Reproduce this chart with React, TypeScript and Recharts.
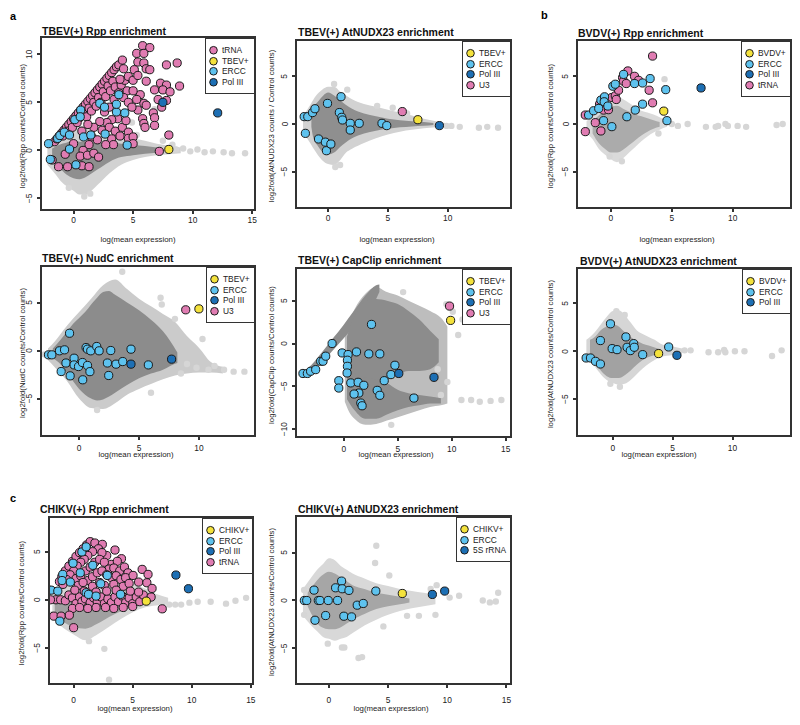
import React from 'react';
import { ComposedChart, Area, Scatter, XAxis, YAxis } from 'recharts';

type Pt = [number, number];
type Band = [number, number, number]; // x, low, high

const FONT = "'Liberation Sans', Arial, Helvetica, sans-serif";
const PINK = '#e07cb2';
const LBLUE = '#5ec2ee';
const DBLUE = '#1d6fb4';
const YELLOW = '#f4e23c';

// ---------- a: TBEV(+) Rpp ----------
const tbevRppFringe: Band[] = [
  [-2.2, -1.5, 0.6], [-1.5, -2.5, 1.2], [-1, -3.3, 1.6], [-0.5, -3.8, 2.0], [0, -4.2, 2.4], [0.5, -4.6, 2.6],
  [1, -4.6, 2.4], [1.5, -4.2, 2.0], [2, -3.6, 1.6], [2.5, -3.0, 1.4], [3, -2.4, 1.3], [3.5, -1.9, 1.2],
  [4, -1.5, 1.3], [5, -1.0, 1.2], [6, -0.7, 1.0], [7, -0.5, 0.7], [8, -0.4, 0.5], [9, -0.3, 0.3],
];
const tbevRppCore: Band[] = [
  [-1.8, -1.0, 0.2], [-1.2, -1.8, 0.6], [-0.6, -2.5, 0.8], [0, -2.9, 1.0], [0.5, -3.0, 0.9], [1, -2.8, 0.9],
  [1.5, -2.4, 0.8], [2, -2.0, 0.8], [2.5, -1.6, 0.8], [3, -1.2, 0.8], [3.5, -0.9, 0.8], [4, -0.7, 0.7],
  [5, -0.5, 0.6], [6, -0.35, 0.45], [7, -0.25, 0.3], [7.6, -0.15, 0.15],
];
const tbevRppDiag: Band[] = [[-1.8, 0.3, 1.2], [0, 2.6, 3.6], [2, 5.6, 6.6], [3.7, 8.2, 8.9]];
const tbevRppHaze: Pt[] = [
  [8.6, 0.1], [9.2, 0.2], [9.8, -0.1], [10.4, 0.1], [11, -0.2], [11.7, -0.1], [12.6, -0.2], [13.3, -0.3],
  [14.4, -0.3], [6.8, 4.3], [4.9, 2.9], [0.9, -4.8], [1.4, -4.5], [-0.4, -3.9], [5.3, 1.6], [7.5, 1.0], [8.3, 0.6],
];
const tbevRppTRNA: Pt[] = [
  [-1.6, 0.9], [-1.4, 1.2], [-1.2, 1.5], [-1.0, 1.8], [-0.8, 2.1], [-0.6, 2.4], [-0.4, 2.7], [-0.2, 3.0],
  [0, 3.3], [0.2, 3.6], [0.4, 3.9], [0.6, 4.2], [0.8, 4.5], [1.0, 4.8], [1.2, 5.1], [1.4, 5.4], [1.6, 5.7],
  [1.8, 6.0], [2.0, 6.3], [2.2, 6.6], [2.4, 6.9], [2.6, 7.2], [2.8, 7.5], [3.0, 7.8], [3.2, 8.1], [3.4, 8.4],
  [3.6, 8.7], [3.8, 8.9],
  [0.5, 3.4], [0.9, 3.9], [1.3, 4.4], [1.7, 5.0], [2.1, 5.5], [2.5, 6.1], [2.9, 6.7], [3.3, 7.2], [1.1, 3.5],
  [1.5, 4.1], [1.9, 4.6], [2.3, 5.0], [2.7, 5.6], [3.1, 6.2], [3.5, 6.6], [-0.9, 1.5], [-0.5, 2.0], [-0.1, 2.4],
  [0.3, 2.9],
  [2.6, 4.0], [3.0, 4.5], [3.4, 5.3], [3.8, 6.0], [4.0, 6.8], [4.3, 7.3], [3.9, 7.4], [4.5, 6.2], [4.2, 5.5],
  [4.6, 5.0], [3.7, 3.3], [3.2, 3.2], [2.8, 2.9], [2.2, 3.0], [1.7, 2.4], [2.4, 2.1], [3.0, 2.4], [3.5, 2.0],
  [4.1, 2.4], [4.4, 3.1], [1.2, 2.7], [0.7, 2.0], [1.5, 1.4], [2.0, 1.1], [3.9, 1.5], [3.2, 1.2],
  [5.8, 10.9], [6.4, 10.7], [5.3, 10.1], [5.9, 10.1], [5.4, 9.2], [5.9, 9.1], [6.1, 8.5], [6.4, 8.4], [5.1, 8.4],
  [7.8, 8.9], [8.7, 9.1], [8.9, 6.7], [4.1, 9.4], [4.2, 8.5], [4.6, 7.7], [5.0, 7.3], [5.4, 7.8], [6.1, 7.2],
  [7.3, 7.0], [7.8, 6.8], [6.8, 6.3], [7.5, 6.3], [8.1, 6.1], [7.1, 5.3], [7.8, 5.2], [7.4, 4.5], [6.7, 3.9],
  [6.8, 3.4], [6.8, 2.6], [5.6, 5.8], [5.9, 4.9], [6.1, 4.7], [5.4, 4.2], [5.8, 3.3], [5.9, 2.8], [6.0, 2.4],
  [4.6, 1.9], [4.6, 1.25], [5.0, 1.4], [5.0, 0.7], [8.0, 1.6], [7.2, -0.1], [5.0, 6.2], [5.3, 5.3], [4.9, 4.5],
  [3.35, 0.6], [2.7, 0.6], [1.3, 0.6], [0, 0.7], [0.8, 0.0], [0.56, -0.6], [1.17, -0.5], [1.7, -0.3], [2.1, -0.7],
  [0.7, -1.6], [1.3, -1.7], [-0.5, -1.7], [-1.26, -1.7], [-1.8, -1.0], [-0.7, -0.4],
];
const tbevRppERCC: Pt[] = [
  [-2.1, 0.7], [-1.95, -0.94], [-1.34, 1.25], [-1.15, 1.55], [-0.78, 1.9], [-0.34, 1.6], [-0.34, 0.14],
  [0.1, 3.2], [0.6, 4.2], [0.56, 3.5], [0.84, 1.4], [1.45, 1.6], [2.2, 4.9], [2.6, 4.5], [2.65, 1.7],
  [3.8, 5.8], [3.6, 4.0], [4.3, 3.9], [3.6, 4.8], [4.5, 0.55], [0.2, -1.5],
];
const tbevRppPol3: Pt[] = [[7.5, 5.0], [12.1, 3.9]];
const tbevRppVirus: Pt[] = [[8.0, 0.1]];

// ---------- a: TBEV(+) AtNUDX23 ----------
const tbevNudxFringe: Band[] = [
  [-2.1, -0.8, 0.8], [-1.5, -2.0, 2.0], [-1, -3.0, 3.0], [-0.5, -3.8, 3.6], [0, -4.2, 3.9], [0.5, -4.3, 3.9],
  [1, -3.8, 3.4], [1.5, -3.0, 3.0], [2, -2.6, 2.6], [3, -2.0, 2.1], [4, -1.5, 1.8], [5, -1.1, 1.5],
  [6, -0.8, 1.2], [7, -0.6, 0.9], [8, -0.45, 0.55], [9, -0.35, 0.3], [9.8, -0.25, 0.1],
];
const tbevNudxCore: Band[] = [
  [-1.4, -0.3, 0.3], [-1.25, -1.4, 1.5], [-0.8, -2.4, 2.4], [-0.4, -3.0, 3.0], [0, -3.2, 3.3], [0.5, -3.0, 3.0],
  [1, -2.4, 2.5], [1.5, -1.9, 2.0], [2, -1.5, 1.6], [3, -1.0, 1.1], [4, -0.7, 0.8], [5, -0.5, 0.55],
  [6, -0.35, 0.4], [7, -0.25, 0.3], [8, -0.18, 0.2], [8.8, -0.1, 0.1],
];
const tbevNudxHaze: Pt[] = [
  [10.3, -0.2], [11, -0.3], [12.6, -0.4], [13.3, -0.3], [14.2, -0.4], [9.9, -0.2], [4.1, 1.9], [5.4, 1.7],
  [6.6, 1.1], [1.6, 3.6], [0.5, 4.2], [1.0, -4.3], [0.6, -4.5],
];
const tbevNudxERCC: Pt[] = [
  [-2.0, 0.77], [-1.7, 0.77], [-1.3, 1.2], [-1.1, 1.6], [-1.9, -0.98], [-0.8, -1.57], [-0.23, -1.9],
  [-0.14, -2.8], [0.23, -2.1], [-0.05, 2.16], [1.08, 2.86], [0.94, 1.2], [1.14, 0.7], [1.2, 0.42],
  [1.85, 0.07], [1.85, -0.63], [2.6, 0.07], [4.5, 0.07], [4.9, -0.17],
];
const tbevNudxPol3: Pt[] = [[9.3, -0.17]];
const tbevNudxVirus: Pt[] = [[7.5, 0.45]];
const tbevNudxU3: Pt[] = [[6.2, 1.3]];

// ---------- b: BVDV(+) Rpp ----------
const bvdvRppFringe: Band[] = [
  [-2, -1.0, 0.3], [-1.5, -1.6, 0.9], [-1, -2.6, 1.6], [-0.5, -3.2, 2.2], [0, -3.7, 2.7], [0.5, -4.0, 2.9],
  [1, -3.6, 2.6], [1.5, -3.0, 2.2], [2, -2.4, 1.8], [2.5, -1.8, 1.4], [3, -1.3, 1.2], [3.5, -0.9, 1.0],
  [4, -0.6, 0.7], [4.6, -0.3, 0.3],
];
const bvdvRppCore: Band[] = [
  [-1.5, -1.0, 0.3], [-1, -2.0, 0.9], [-0.5, -2.6, 1.3], [0, -3.0, 1.8], [0.5, -3.0, 1.9], [1, -2.7, 1.6],
  [1.5, -2.2, 1.3], [2, -1.7, 1.0], [2.5, -1.2, 0.8], [3, -0.8, 0.6], [3.5, -0.5, 0.4], [4, -0.3, 0.2],
];
const bvdvRppHaze: Pt[] = [
  [5.0, 0.0], [5.5, -0.2], [6.3, 0.0], [7.8, -0.3], [8.6, -0.3], [8.8, -0.2], [9.4, 0.0], [9.6, -0.2],
  [10.4, -0.2], [11.1, -0.3], [13.6, -0.1], [14.1, 0.0], [4.4, 4.7], [0.9, -3.9], [-0.1, -3.4], [3.9, -1.0],
];
const bvdvRppTRNA: Pt[] = [
  [-2.1, 0.94], [-2.1, -0.8], [-1.28, 0.14], [-0.93, 2.08], [-0.82, -0.73], [-0.6, 1.46], [-0.2, 1.5],
  [0.08, 2.78], [0.36, 2.95], [0.44, 2.57], [0.63, 3.54], [0.96, 4.86], [1.04, 4.48], [1.26, 4.24],
  [1.39, 5.56], [1.94, 5.0], [2.27, 4.58], [3.14, 3.54], [3.42, 7.12], [3.42, 2.22],
];
const bvdvRppERCC: Pt[] = [
  [-1.83, 0.94], [-1.42, 1.39], [-1.0, 1.63], [-0.82, 2.5], [-0.52, 2.85], [-0.55, 2.33], [-0.25, 1.88],
  [-0.6, 0.35], [0.08, -0.28], [0.16, 3.96], [0.36, 4.17], [1.04, 5.2], [1.31, 0.76], [2.0, 1.46],
  [1.94, 4.24], [2.6, 4.3], [2.6, 2.08], [3.22, 4.76], [4.5, 3.6], [4.6, 0.35],
];
const bvdvRppPol3: Pt[] = [[7.4, 3.78]];
const bvdvRppVirus: Pt[] = [[4.34, 1.35]];

// ---------- a: TBEV(+) NudC ----------
const tbevNudcFringe: Band[] = [
  [-2.6, -1.0, 0.2], [-2, -1.8, 1.0], [-1, -3.2, 2.6], [0, -5.0, 4.0], [1, -6.0, 5.4], [2, -6.1, 6.8],
  [3, -5.5, 7.4], [4, -4.6, 6.4], [5, -4.0, 5.4], [6, -3.5, 4.6], [7, -3.0, 3.8], [8, -2.6, 3.0],
  [9, -2.4, 1.5], [10, -2.3, 0.3], [11, -2.3, -1.2], [12, -2.4, -1.7],
];
const tbevNudcCore: Band[] = [
  [-2.2, -0.8, 0.2], [-1.5, -1.5, 1.2], [-1, -2.4, 2.0], [-0.5, -3.2, 2.8], [0, -4.0, 3.4], [0.5, -4.6, 4.0],
  [1, -5.0, 4.8], [1.5, -5.2, 5.5], [2, -5.1, 6.1], [2.5, -4.8, 6.2], [3, -4.4, 5.8], [4, -3.6, 5.0],
  [5, -2.9, 4.2], [6, -2.4, 3.2], [7, -2.0, 2.0], [7.6, -1.6, 1.0], [8.2, -1.3, -0.2],
];
const tbevNudcHaze: Pt[] = [
  [3.6, 8.2], [6.8, 5.5], [6.9, 4.8], [8.0, 3.3], [10.3, 1.2], [9.0, -1.4], [9.8, -1.8], [11.3, -1.6],
  [12.1, -2.0], [12.9, -2.2], [13.8, -2.2], [6.0, -4.4], [8.5, -2.4], [10.8, -2.0], [1.5, -6.2], [-2.9, -0.4],
];
const tbevNudcERCC: Pt[] = [
  [-2.56, -0.45], [-2.28, -0.45], [-1.64, -0.03], [-1.22, 0.07], [-0.8, 1.8], [-1.5, -2.19], [-1.1, -1.3],
  [-0.75, -2.64], [-0.42, -0.8], [-0.42, -1.5], [-0.05, -1.67], [0.28, -1.25], [0.3, -3.05], [0.58, 0.31],
  [0.7, 0.14], [0.7, -1.56], [0.9, -2.2], [0.97, -0.03], [1.47, 0.42], [1.67, -0.03], [2.64, 0],
  [2.36, -1.3], [2.47, -2.6], [3.08, -1.42], [3.64, -1.15], [4.33, 0.14], [5.78, -1.5],
];
const tbevNudcPol3: Pt[] = [[4.33, -1.42], [7.72, -0.9]];
const tbevNudcVirus: Pt[] = [[10.0, 4.34]];
const tbevNudcU3: Pt[] = [[8.9, 4.24]];

// ---------- a: TBEV(+) CapClip ----------
const capFringe: Band[] = [
  [0.1, -6.8, 1.0], [0.5, -8.0, 2.6], [1, -8.8, 4.0], [2, -9.5, 5.8], [3, -9.4, 6.6], [4, -9.0, 6.0],
  [5, -8.6, 5.6], [6, -8.2, 5.0], [7, -7.8, 4.4], [8, -7.4, 3.8], [9, -7.2, 3.0], [9.6, -7.0, 2.0],
];
const capUpperCore: Band[] = [
  [0.3, -4.5, 0.8], [0.6, -5.0, 2.0], [1, -5.0, 3.2], [1.5, -4.8, 4.2], [2, -4.6, 5.0], [3, -4.4, 5.2],
  [4, -4.2, 5.0], [5, -3.6, 4.6], [6, -3.2, 3.8], [7, -3.2, 2.8], [8, -3.0, 1.5], [8.8, -2.2, 0.5],
];
const capLowerCore: Band[] = [
  [0.3, -6.5, -3.0], [1, -7.8, -3.5], [2, -8.8, -4.0], [3, -8.8, -4.2], [4, -8.3, -4.6], [5, -7.8, -5.4],
  [6, -7.4, -5.8], [7, -7.2, -6.0], [8, -7.0, -6.2], [9, -7.0, -6.4],
];
const capDiag: Band[] = [
  [-3.6, -3.6, -3.2], [-3, -3.3, -2.5], [-2, -2.2, -1.0], [-1, -0.8, 0.6], [0, 0.6, 2.2], [1, 2.1, 3.9],
  [2, 3.6, 5.6], [3, 5.2, 6.8], [3.3, 6.0, 6.9],
];
const capHaze: Pt[] = [
  [9.5, 4.6], [10.1, 3.7], [10.6, 1.0], [11.0, 2.8], [9.6, -4.5], [8.7, -3.0], [10.9, -6.6], [11.8, -6.6],
  [12.6, -6.8], [13.6, -6.7], [14.6, -6.6], [9.0, -6.0], [4.4, -9.5], [5.5, 6.0],
];
const capERCC: Pt[] = [
  [-3.78, -3.5], [-3.37, -3.5], [-3.07, -3.24], [-2.6, -3.05], [-2.14, -2.07], [-1.92, -2.07], [-1.67, -1.48],
  [-1.08, 0], [-0.15, -1.1], [0.4, -1.29], [0.34, -1.95], [0.34, -2.66], [0.31, -3.44], [-0.46, -4.34],
  [-0.46, -5.2], [0.65, -4.6], [1.18, -0.98], [1.33, -4.53], [1.4, -5.78], [0.96, -5.9], [1.86, -4.88],
  [1.58, -6.95], [1.7, -7.27], [2.57, 2.23], [2.32, -1.21], [3.34, -1.21], [3.1, -5.47], [3.34, -6.05],
  [3.75, -4.34], [4.37, -3.63], [4.74, -2.54], [6.5, -6.37],
];
const capPol3: Pt[] = [[5.1, -3.5], [8.36, -3.95]];
const capVirus: Pt[] = [[9.9, 2.7]];
const capU3: Pt[] = [[9.8, 4.37]];

// ---------- b: BVDV(+) AtNUDX23 ----------
const bvdvNudxFringe: Band[] = [
  [-2.2, -0.6, 1.2], [-1.5, -1.6, 2.0], [-1, -2.4, 2.8], [-0.5, -3.0, 3.6], [0, -3.3, 4.2], [0.5, -3.5, 4.3],
  [1, -3.4, 3.8], [1.5, -3.0, 3.0], [2, -2.4, 2.2], [2.5, -1.8, 1.8], [3, -1.3, 1.5], [3.5, -0.9, 1.2],
  [4, -0.6, 0.8], [5, -0.4, 0.5], [5.8, -0.2, 0.3],
];
const bvdvNudxCore: Band[] = [
  [-1.9, -0.5, 1.2], [-1.5, -1.2, 1.5], [-1, -2.0, 2.2], [-0.5, -2.6, 2.6], [0, -2.8, 2.8], [0.5, -2.8, 2.6],
  [1, -2.5, 2.0], [1.5, -2.0, 1.5], [2, -1.4, 1.1], [2.5, -0.9, 0.8], [3, -0.6, 0.6], [3.5, -0.4, 0.4],
  [4, -0.2, 0.2],
];
const bvdvNudxHaze: Pt[] = [
  [6.0, 0.1], [6.5, 0.1], [8.0, -0.1], [8.8, -0.1], [9.3, 0.15], [9.4, -0.1], [10.2, 0.0], [11.0, 0.0],
  [13.3, -0.5], [14.1, 0.1], [0.3, 4.2], [1.0, 3.8], [-0.2, -3.4], [0.6, -3.7],
];
const bvdvNudxERCC: Pt[] = [
  [-1.03, 1.12], [-2.22, -0.7], [-1.86, -0.7], [-1.44, -1.05], [-1.03, -1.33], [-0.19, 2.87], [-0.05, 0.28],
  [0.36, 0.17], [1.1, 1.5], [1.2, 0.42], [1.47, 0.07], [1.75, 0.8], [1.8, 0.42], [2.5, -0.35], [4.67, 0.45],
];
const bvdvNudxPol3: Pt[] = [[5.36, -0.42]];
const bvdvNudxVirus: Pt[] = [[3.83, -0.24]];

// ---------- c: CHIKV(+) Rpp ----------
const chikRppFringe: Band[] = [
  [-1.8, -1.8, 0.5], [-1, -2.8, 1.2], [0, -3.6, 1.6], [1, -4.2, 1.8], [2, -3.6, 1.8], [3, -2.8, 1.8],
  [4, -2.0, 1.8], [5, -1.3, 1.6], [6, -0.8, 1.2], [7, -0.6, 0.6], [8, -0.5, 0.2],
];
const chikRppCore: Band[] = [
  [-1.6, -1.6, 0.0], [-1, -2.2, 0.3], [0, -2.8, 0.5], [1, -3.0, 0.5], [2, -2.5, 0.5], [3, -1.8, 0.5],
  [4, -1.2, 0.5], [5, -0.7, 0.4], [6, -0.4, 0.3], [6.6, -0.2, 0.1],
];
const chikRppHaze: Pt[] = [
  [8.1, -0.5], [8.6, -0.5], [9.1, -0.5], [9.8, -0.3], [10.5, -0.2], [11.6, -0.2], [12.9, -0.4], [13.7, -0.1],
  [14.6, 0.2], [5.4, 1.7], [2.6, -5.1], [1.3, -4.3], [3.0, -8.3], [7.2, -0.2], [-1.8, -1.5],
];
const chikRppTRNA: Pt[] = [
  [-1.2, 1.9], [-1.0, 2.4], [-0.7, 3.0], [-0.4, 3.5], [-0.1, 4.0], [0.2, 4.5], [0.5, 4.9], [0.8, 5.3],
  [1.1, 5.7], [1.4, 6.04], [1.8, 5.9], [2.43, 5.76], [2.1, 5.3], [3.5, 5.17], [4.05, 4.27], [3.2, 3.68],
  [3.7, 4.0], [2.8, 4.6], [2.4, 4.9], [1.6, 5.0], [1.2, 4.6], [0.9, 4.2], [0.6, 3.9], [0.3, 3.5], [0, 3.0],
  [-0.3, 2.6], [-0.6, 2.1], [-0.9, 1.6],
  [0.2, 2.2], [0.6, 2.5], [1.0, 3.0], [1.4, 3.4], [1.8, 3.9], [2.2, 4.2], [2.6, 3.9], [3.0, 3.2], [3.4, 3.3],
  [3.9, 3.0], [4.3, 3.4], [4.6, 2.8], [1.2, 2.0], [1.6, 2.4], [2.0, 2.8], [2.4, 3.0], [2.8, 2.6], [3.2, 2.3],
  [3.6, 2.5], [4.0, 2.1], [4.4, 2.3], [0.4, 1.5], [0.8, 1.8], [1.6, 1.4], [2.2, 1.8], [2.6, 1.5], [3.4, 1.6],
  [4.2, 1.4], [4.7, 1.7], [5.03, 2.53], [5.8, 3.16], [6.3, 2.64], [5.5, 1.84], [6.2, 1.77], [6.64, 1.18],
  [-1.5, 0], [-1.1, 0], [-0.7, -0.1], [-0.4, 0.5], [-0.1, 0.2], [0.2, -0.4], [0.5, 0.3], [0.7, -0.2],
  [1.0, 0.1], [1.4, -0.3], [1.7, 0.2], [2.0, -0.2], [2.3, 0.3], [2.6, -0.4], [2.9, 0.1], [3.2, -0.3],
  [3.5, 0.3], [3.8, -0.2], [4.1, 0.4], [4.4, -0.3], [4.7, 0.2], [5.0, -0.4], [5.3, 0.3], [5.6, -0.2],
  [5.9, 0.5], [6.56, 0.28], [-0.1, -0.9], [0.5, -0.8], [1.2, -0.9], [1.9, -0.8], [2.7, -0.8], [3.4, -0.9],
  [4.2, -0.8], [5.0, -0.7], [0.1, 1.0], [0.9, 0.9], [1.9, 0.8], [2.8, 0.9], [3.6, 1.0], [4.8, 0.9],
  [5.5, 0.8], [7.5, -0.94], [-1.96, 0], [-1.68, -1.7], [-1.06, -1.7], [-0.36, -1.6], [0, -2.9],
];
const chikRppERCC: Pt[] = [
  [-2.1, 1.0], [-1.9, 1.0], [-1.34, 0.9], [-0.92, 2.64], [-0.98, 2.0], [-0.28, 1.84], [-0.05, 3.8],
  [0.7, 4.97], [1.06, 5.5], [0.56, 2.8], [1.06, 0.73], [1.26, 0.56], [1.62, 3.58], [1.9, 0.38], [2.29, 1.67],
  [2.85, 2.53], [3.97, 0.56], [-1.17, -2.22],
];
const chikRppPol3: Pt[] = [[8.66, 2.57], [9.72, 1.15]];
const chikRppVirus: Pt[] = [[6.15, -0.14]];

// ---------- c: CHIKV(+) AtNUDX23 ----------
const chikNudxFringe: Band[] = [
  [-2.2, -1.6, 1.2], [-1.5, -2.6, 2.4], [-1, -3.2, 3.2], [-0.5, -3.8, 3.8], [0, -4.0, 4.4], [0.5, -4.2, 4.2],
  [1, -4.0, 3.6], [1.5, -3.8, 3.2], [2, -3.4, 2.8], [3, -2.6, 2.3], [4, -2.0, 1.8], [5, -1.5, 1.5],
  [6, -1.1, 1.2], [7, -0.8, 1.0], [8, -0.6, 0.8], [9, -0.4, 0.6],
];
const chikNudxCore: Band[] = [
  [-1.8, -0.6, 0.8], [-1.2, -2.0, 1.8], [-0.6, -2.8, 2.6], [0, -3.0, 3.0], [0.5, -3.0, 2.8], [1, -2.8, 2.4],
  [1.5, -2.4, 2.0], [2, -2.0, 1.6], [3, -1.4, 1.2], [4, -0.9, 0.8], [5, -0.6, 0.6], [6, -0.4, 0.4],
  [6.8, -0.2, 0.2],
];
const chikNudxHaze: Pt[] = [
  [4.0, 5.7], [3.9, 3.9], [5.1, 2.6], [9.1, 1.6], [8.6, 1.2], [7.6, -1.6], [9.0, -1.5], [13.0, 0.0],
  [13.6, -0.2], [14.3, 0.8], [14.1, -0.1], [2.5, -6.0], [2.8, -5.9], [1.1, -4.9], [1.3, -4.9], [-0.1, -4.5],
  [4.6, -2.7], [6.6, -1.6], [11.0, 0.5], [10.2, 0.3], [-2.1, -1.5], [-2.1, 1.1],
];
const chikNudxERCC: Pt[] = [
  [-2.08, 0], [-1.88, 0], [-1.26, 1.08], [-0.9, 0], [-0.76, 0], [-0.06, 0], [0.73, 0], [-1.18, -2.06],
  [-0.28, -1.57], [0.56, 1.32], [1.07, 2.02], [1.12, 1.22], [1.69, 1.05], [1.26, -1.64], [1.91, -1.71],
  [2.39, -0.49], [2.9, -0.31], [3.96, 0.98],
];
const chikNudx5S: Pt[] = [[8.74, 0.63], [9.78, 0.98]];
const chikNudxVirus: Pt[] = [[6.2, 0.73]];

interface Series { name: string; color: string; data: Pt[] }
interface PanelSpec {
  box: [number, number, number, number];
  xd: [number, number];
  yd: [number, number];
  xt: number[];
  yt: number[];
  tickGap: number;
  title: string;
  titleAt: Pt;
  yLabel: string;
  yLabelX: number;
  xLabelAt: Pt;
  fringe: Band[][];
  core: Band[][];
  fringeFill: string;
  coreFill: string;
  haze: Pt[];
  series: Series[];
  legend: string[];
  legendW: number;
}

const panels: PanelSpec[] = [
  {
    box: [42, 38, 254, 209], xd: [-2.65, 15.15], yd: [-6.1, 11.7], xt: [0, 5, 10, 15], yt: [-5, 0, 5, 10], tickGap: 4,
    title: 'TBEV(+) Rpp enrichment', titleAt: [42, 31], yLabel: 'log2fold(Rpp counts/Control counts)', yLabelX: 23,
    xLabelAt: [138, 240], fringe: [tbevRppFringe], core: [tbevRppCore, tbevRppDiag], fringeFill: '#d2d2d2', coreFill: '#8f8f8f',
    haze: tbevRppHaze,
    series: [
      { name: 'tRNA', color: PINK, data: tbevRppTRNA },
      { name: 'ERCC', color: LBLUE, data: tbevRppERCC },
      { name: 'Pol III', color: DBLUE, data: tbevRppPol3 },
      { name: 'TBEV+', color: YELLOW, data: tbevRppVirus },
    ],
    legend: ['tRNA', 'TBEV+', 'ERCC', 'Pol III'], legendW: 49,
  },
  {
    box: [297, 41, 510, 207], xd: [-2.6, 15.2], yd: [-8.7, 8.7], xt: [0, 5, 10], yt: [-5, 0, 5], tickGap: 4,
    title: 'TBEV(+) AtNUDX23 enrichment', titleAt: [298, 32], yLabel: 'log2fold(AtNUDX23 counts / Control counts)', yLabelX: 272,
    xLabelAt: [397, 240], fringe: [tbevNudxFringe], core: [tbevNudxCore], fringeFill: '#d2d2d2', coreFill: '#8f8f8f',
    haze: tbevNudxHaze,
    series: [
      { name: 'U3', color: PINK, data: tbevNudxU3 },
      { name: 'ERCC', color: LBLUE, data: tbevNudxERCC },
      { name: 'Pol III', color: DBLUE, data: tbevNudxPol3 },
      { name: 'TBEV+', color: YELLOW, data: tbevNudxVirus },
    ],
    legend: ['TBEV+', 'ERCC', 'Pol III', 'U3'], legendW: 48,
  },
  {
    box: [578, 41, 790, 207], xd: [-2.7, 14.7], yd: [-8.7, 8.7], xt: [0, 5, 10], yt: [-5, 0, 5], tickGap: 4,
    title: 'BVDV(+) Rpp enrichment', titleAt: [578, 33], yLabel: 'log2fold(Rpp counts/Control counts)', yLabelX: 551,
    xLabelAt: [677, 240], fringe: [bvdvRppFringe], core: [bvdvRppCore], fringeFill: '#dadada', coreFill: '#ababab',
    haze: bvdvRppHaze,
    series: [
      { name: 'tRNA', color: PINK, data: bvdvRppTRNA },
      { name: 'ERCC', color: LBLUE, data: bvdvRppERCC },
      { name: 'Pol III', color: DBLUE, data: bvdvRppPol3 },
      { name: 'BVDV+', color: YELLOW, data: bvdvRppVirus },
    ],
    legend: ['BVDV+', 'ERCC', 'Pol III', 'tRNA'], legendW: 49,
  },
  {
    box: [42, 267, 254, 435], xd: [-3.1, 14.6], yd: [-8.8, 8.7], xt: [0, 5, 10], yt: [-5, 0, 5], tickGap: 5.7,
    title: 'TBEV(+) NudC enrichment', titleAt: [42, 258], yLabel: 'log2fold(NudC counts/Control counts)', yLabelX: 23,
    xLabelAt: [136, 455], fringe: [tbevNudcFringe], core: [tbevNudcCore], fringeFill: '#cbcbcb', coreFill: '#8c8c8c',
    haze: tbevNudcHaze,
    series: [
      { name: 'U3', color: PINK, data: tbevNudcU3 },
      { name: 'ERCC', color: LBLUE, data: tbevNudcERCC },
      { name: 'Pol III', color: DBLUE, data: tbevNudcPol3 },
      { name: 'TBEV+', color: YELLOW, data: tbevNudcVirus },
    ],
    legend: ['TBEV+', 'ERCC', 'Pol III', 'U3'], legendW: 48,
  },
  {
    box: [297, 269, 510, 436], xd: [-4.33, 15.4], yd: [-10.8, 8.7], xt: [0, 5, 10, 15], yt: [-10, -5, 0, 5], tickGap: 5.7,
    title: 'TBEV(+) CapClip enrichment', titleAt: [298, 260], yLabel: 'log2fold(CapClip counts/Control counts)', yLabelX: 272,
    xLabelAt: [396, 455], fringe: [capFringe], core: [capDiag, capUpperCore, capLowerCore], fringeFill: '#bdbdbd', coreFill: '#8c8c8c',
    haze: capHaze,
    series: [
      { name: 'U3', color: PINK, data: capU3 },
      { name: 'ERCC', color: LBLUE, data: capERCC },
      { name: 'Pol III', color: DBLUE, data: capPol3 },
      { name: 'TBEV+', color: YELLOW, data: capVirus },
    ],
    legend: ['TBEV+', 'ERCC', 'Pol III', 'U3'], legendW: 48,
  },
  {
    box: [578, 269, 790, 435], xd: [-2.9, 14.8], yd: [-8.75, 8.6], xt: [0, 5, 10], yt: [-5, 0, 5], tickGap: 5.7,
    title: 'BVDV(+) AtNUDX23 enrichment', titleAt: [580, 261], yLabel: 'log2fold(AtNUDX23 counts/Control counts)', yLabelX: 551,
    xLabelAt: [659, 455], fringe: [bvdvNudxFringe], core: [bvdvNudxCore], fringeFill: '#d6d6d6', coreFill: '#a2a2a2',
    haze: bvdvNudxHaze,
    series: [
      { name: 'ERCC', color: LBLUE, data: bvdvNudxERCC },
      { name: 'Pol III', color: DBLUE, data: bvdvNudxPol3 },
      { name: 'BVDV+', color: YELLOW, data: bvdvNudxVirus },
    ],
    legend: ['BVDV+', 'ERCC', 'Pol III'], legendW: 48,
  },
  {
    box: [50, 518, 252, 683], xd: [-2.0, 15.1], yd: [-8.65, 8.5], xt: [0, 5, 10, 15], yt: [-5, 0, 5], tickGap: 9.7,
    title: 'CHIKV(+) Rpp enrichment', titleAt: [40, 509], yLabel: 'log2fold(Rpp counts/Control counts)', yLabelX: 22,
    xLabelAt: [135, 709], fringe: [chikRppFringe], core: [chikRppCore], fringeFill: '#d6d6d6', coreFill: '#a0a0a0',
    haze: chikRppHaze,
    series: [
      { name: 'tRNA', color: PINK, data: chikRppTRNA },
      { name: 'ERCC', color: LBLUE, data: chikRppERCC },
      { name: 'Pol III', color: DBLUE, data: chikRppPol3 },
      { name: 'CHIKV+', color: YELLOW, data: chikRppVirus },
    ],
    legend: ['CHIKV+', 'ERCC', 'Pol III', 'tRNA'], legendW: 50,
  },
  {
    box: [297, 517, 510, 683], xd: [-2.7, 15.3], yd: [-8.6, 8.7], xt: [0, 5, 10, 15], yt: [-5, 0, 5], tickGap: 9.7,
    title: 'CHIKV(+) AtNUDX23 enrichment', titleAt: [298, 509], yLabel: 'log2fold(AtNUDX23 counts/Control counts)', yLabelX: 272,
    xLabelAt: [391, 709], fringe: [chikNudxFringe], core: [chikNudxCore], fringeFill: '#d8d8d8', coreFill: '#a6a6a6',
    haze: chikNudxHaze,
    series: [
      { name: 'ERCC', color: LBLUE, data: chikNudxERCC },
      { name: '5S rRNA', color: DBLUE, data: chikNudx5S },
      { name: 'CHIKV+', color: YELLOW, data: chikNudxVirus },
    ],
    legend: ['CHIKV+', 'ERCC', '5S rRNA'], legendW: 54,
  },
];

const panelLetters: [string, number, number][] = [['a', 10, 16], ['b', 541, 15], ['c', 10, 498]];

const toPts = (a: Pt[]) => a.map(([x, y]) => ({ x, y }));
const toBand = (a: Band[]) => a.map(([x, lo, hi]) => ({ x, band: [lo, hi] }));

const minus = (v: number) => (v < 0 ? `\u2212${Math.abs(v)}` : `${v}`);

const XTick = (props: any) => {
  const { x, y, payload, gap } = props;
  const top = y - gap - 4;
  return (
    <g>
      <rect x={Math.round(x) - 1} y={top} width={2} height={5} fill="#333" />
      <text x={x} y={y + 6} textAnchor="middle" fontSize={8.4} fill="#222" fontFamily={FONT}>{minus(payload.value)}</text>
    </g>
  );
};

const YTick = (props: any) => {
  const { x, y, payload } = props;
  const tx = x - 3.5;
  return (
    <g>
      <rect x={x + 1} y={Math.round(y) - 1} width={5} height={2} fill="#333" />
      <text x={tx} y={y} transform={`rotate(-90 ${tx} ${y})`} textAnchor="middle" fontSize={8.4} fill="#222" fontFamily={FONT}>
        {minus(payload.value)}
      </text>
    </g>
  );
};

const dotShape = (fill: string) => (props: any) => (
  <circle cx={props.cx} cy={props.cy} r={4.1} fill={fill} stroke="#1a1a1a" strokeWidth={1} />
);
const hazeShape = (props: any) => <circle cx={props.cx} cy={props.cy} r={3.2} fill="#d6d6d6" />;

const YW = 30;
const XH = 26;
const MT = 2;
const MR = 4;

function Panel({ p }: { p: PanelSpec }) {
  const [l, t, r, b] = p.box;
  const w = r - l;
  const h = b - t;
  const colorOf = (name: string) => p.series.find(s => s.name === name)?.color ?? '#000';
  return (
    <>
      <div style={{ position: 'absolute', left: l - YW, top: t - MT, zIndex: 1 }}>
        <ComposedChart width={YW + w + MR} height={MT + h + XH} margin={{ top: MT, right: MR, bottom: 0, left: 0 }}>
          <XAxis
            type="number" dataKey="x" domain={p.xd} ticks={p.xt} allowDataOverflow interval={0}
            height={XH} axisLine={false} tickLine={false} tickSize={4} tickMargin={p.tickGap}
            tick={<XTick gap={p.tickGap} />}
          />
          <YAxis
            type="number" dataKey="y" domain={p.yd} ticks={p.yt} allowDataOverflow interval={0}
            width={YW} axisLine={false} tickLine={false} tickSize={4} tickMargin={2} tick={<YTick />}
          />
          {p.fringe.map((f, i) => (
            <Area key={`f${i}`} data={toBand(f)} dataKey="band" type="monotone" stroke="none"
              fill={p.fringeFill} fillOpacity={1} isAnimationActive={false} dot={false} activeDot={false} />
          ))}
          {p.core.map((c, i) => (
            <Area key={`c${i}`} data={toBand(c)} dataKey="band" type="monotone" stroke="none"
              fill={p.coreFill} fillOpacity={1} isAnimationActive={false} dot={false} activeDot={false} />
          ))}
          <Scatter data={toPts(p.haze)} shape={hazeShape} isAnimationActive={false} />
          {p.series.map(s => (
            <Scatter key={s.name} name={s.name} data={toPts(s.data)} shape={dotShape(s.color)} isAnimationActive={false} />
          ))}
        </ComposedChart>
      </div>

      {/* plot frame, drawn above the chart */}
      <div style={{
        position: 'absolute', left: l - 2, top: t - 2, width: w + 4, height: h + 4, zIndex: 2,
        border: '2px solid #333', boxSizing: 'border-box', pointerEvents: 'none',
      }} />

      <div style={{
        position: 'absolute', left: r - p.legendW, top: t - 1, width: p.legendW - 1, zIndex: 3,
        height: 6.5 + p.legend.length * 10.5 + 5, border: '2px solid #333', borderLeftWidth: 1, borderBottomWidth: 1, background: '#fff',
      }}>
        {p.legend.map((name, i) => (
          <div key={name} style={{ position: 'absolute', left: 0, top: 6 + i * 10.5, height: 10.5, display: 'flex', alignItems: 'center' }}>
            <svg width={16} height={10.5} style={{ display: 'block' }}>
              <circle cx={7.5} cy={5.25} r={3.8} fill={colorOf(name)} stroke="#1a1a1a" strokeWidth={1} />
            </svg>
            <span style={{ fontSize: 8.4, color: '#222', whiteSpace: 'nowrap', lineHeight: 1 }}>{name}</span>
          </div>
        ))}
      </div>

      <div style={{
        position: 'absolute', left: p.titleAt[0], top: p.titleAt[1], transform: 'translateY(-50%)',
        fontSize: 10.5, fontWeight: 'bold', whiteSpace: 'nowrap', lineHeight: 1, color: '#111',
      }}>{p.title}</div>

      <div style={{
        position: 'absolute', left: p.yLabelX, top: (t + b) / 2 + 2, transform: 'translate(-50%, -50%) rotate(-90deg)',
        fontSize: 7.8, whiteSpace: 'nowrap', lineHeight: 1, color: '#222',
      }}>{p.yLabel}</div>

      <div style={{
        position: 'absolute', left: p.xLabelAt[0], top: p.xLabelAt[1], transform: 'translate(-50%, -50%)',
        fontSize: 7.8, whiteSpace: 'nowrap', lineHeight: 1, color: '#222',
      }}>log(mean expression)</div>
    </>
  );
}

export default function App() {
  return (
    <div style={{ position: 'absolute', left: 0, top: 0, width: 800, height: 725, background: '#fff', fontFamily: FONT, overflow: 'hidden' }}>
      {panels.map((p, i) => <Panel key={i} p={p} />)}
      {panelLetters.map(([s, x, y]) => (
        <div key={s} style={{ position: 'absolute', left: x, top: y, transform: 'translateY(-50%)', fontSize: 11, fontWeight: 'bold', lineHeight: 1 }}>{s}</div>
      ))}
    </div>
  );
}
